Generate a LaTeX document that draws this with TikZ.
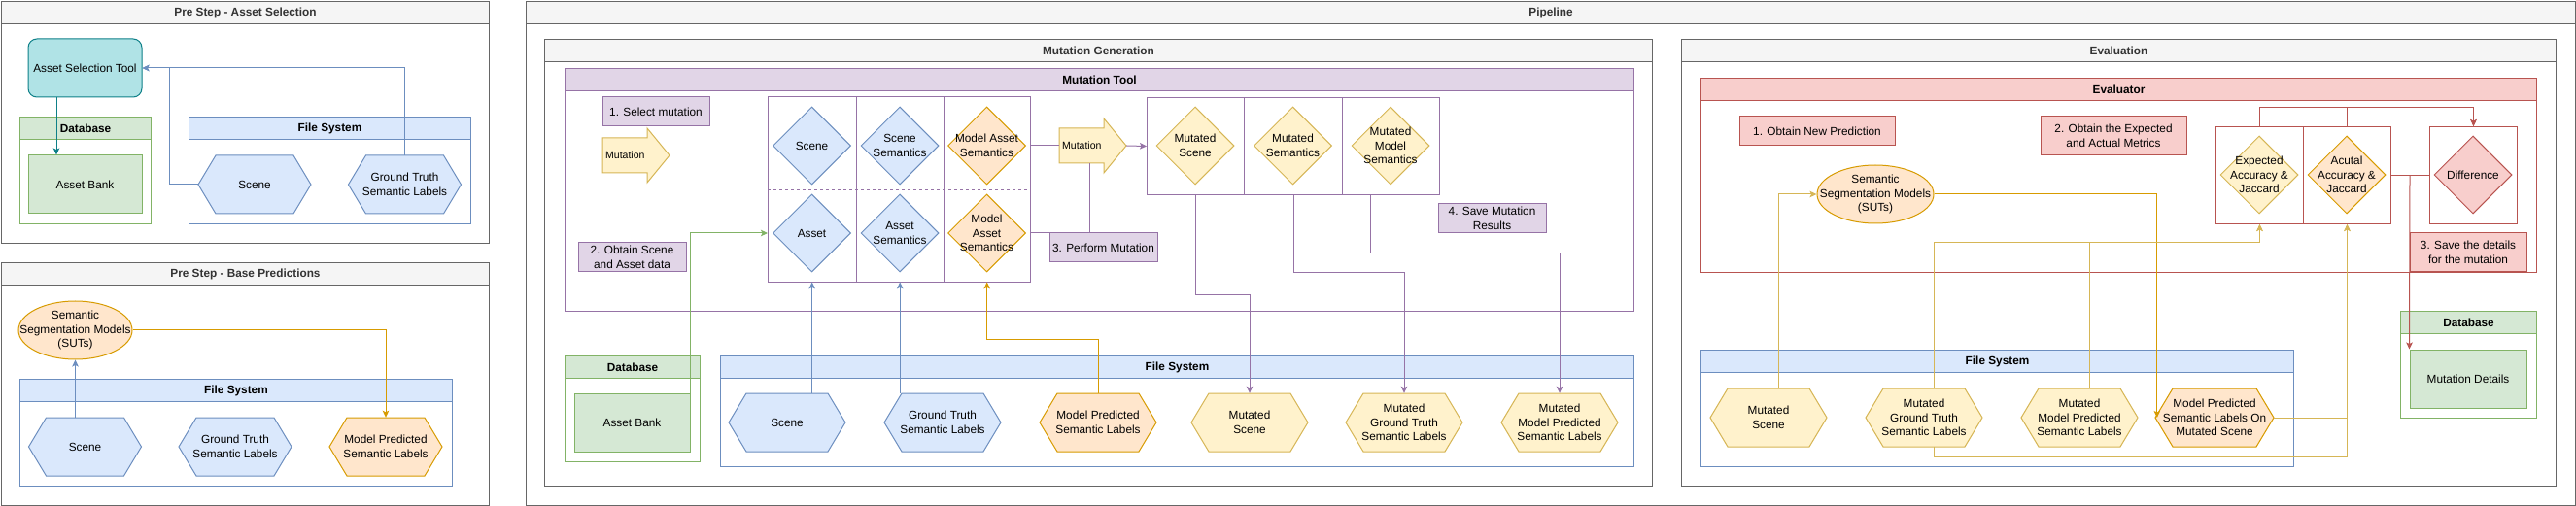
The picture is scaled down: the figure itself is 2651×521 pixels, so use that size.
\documentclass[tikz,border=0pt]{standalone}
\usepackage{fontspec}
\setmainfont{Liberation Sans}
\usetikzlibrary{shapes.geometric,arrows.meta,calc}

\definecolor{gfill}{HTML}{F5F5F5}\definecolor{gline}{HTML}{666666}\definecolor{gtext}{HTML}{333333}
\definecolor{bfill}{HTML}{DAE8FC}\definecolor{bline}{HTML}{6C8EBF}
\definecolor{grfill}{HTML}{D5E8D4}\definecolor{grline}{HTML}{82B366}
\definecolor{ofill}{HTML}{FFE6CC}\definecolor{oline}{HTML}{D79B00}
\definecolor{yfill}{HTML}{FFF2CC}\definecolor{yline}{HTML}{D6B656}
\definecolor{pfill}{HTML}{E1D5E7}\definecolor{pline}{HTML}{9673A6}
\definecolor{rfill}{HTML}{F8CECC}\definecolor{rline}{HTML}{B85450}
\definecolor{tfill}{HTML}{B0E3E6}\definecolor{tline}{HTML}{0E8088}

\tikzset{
  txt/.style={font=\fontsize{11.8}{14.5}\selectfont, align=center, inner sep=0pt},
  hdr/.style={font=\fontsize{11.8}{14.5}\selectfont\bfseries},
  conn/.style={line width=1pt, -{Stealth[length=7pt,width=6.5pt,inset=1.5pt]}},
  plainline/.style={line width=1pt},
  dia/.style={diamond, minimum width=80pt, minimum height=80pt, inner sep=0pt, line width=1pt},
  stepP/.style={txt, draw=pline, fill=pfill, line width=1pt},
  stepR/.style={txt, draw=rline, fill=rfill, line width=1pt},
  greenbox/.style={txt, draw=grline, fill=grfill, line width=1pt},
  cellbox/.style={minimum height=95pt, inner sep=0pt, anchor=north west},
  arrtxt/.style={font=\fontsize{10.5}{12}\selectfont, inner sep=0pt, anchor=west},
}

% container: name, x1, y1, x2, y2, header fill, stroke, title, title colour
\newcommand{\lane}[9]{%
  \node[draw=#7, fill=white, line width=1pt, minimum width=#4-#2, minimum height=#5-#3, anchor=north west, inner sep=0pt] (#1) at (#2,#3) {};
  \node[draw=#7, fill=#6, line width=1pt, minimum width=#4-#2, minimum height=23, anchor=north west, inner sep=0pt, hdr, text=#9] (#1h) at (#2,#3) {#8};
}
% hexagon: name, x, y, half width, style, text
\newcommand{\hexn}[6]{%
  \draw[#5, line width=1pt] (#2-#4,#3) -- (#2-#4+18,#3-30) -- (#2+#4-18,#3-30) -- (#2+#4,#3) -- (#2+#4-18,#3+30) -- (#2-#4+18,#3+30) -- cycle;
  \node[txt, minimum width=2*#4, minimum height=60] (#1) at (#2,#3) {#6};
}
% diamond: name, x, y, style, text
\newcommand{\dmd}[5]{%
  \node[dia, #4] (#1) at (#2,#3) {};
  \node[txt] (#1t) at (#1) {#5};
}

\begin{document}
\begin{tikzpicture}[x=1pt,y=-1pt]
\useasboundingbox (0,0) rectangle (2651,521);
\fill[white] (0,0) rectangle (2651,521);

% ---------------- containers
\lane{psA}{1}{1}{503}{250}{gfill}{gline}{Pre Step - Asset Selection}{gtext}
\lane{psB}{1}{270}{503}{520}{gfill}{gline}{Pre Step - Base Predictions}{gtext}
\lane{pipe}{541}{1}{2650}{520}{gfill}{gline}{Pipeline}{gtext}
\lane{mgen}{560}{40}{1700}{500}{gfill}{gline}{Mutation Generation}{gtext}
\lane{mtool}{581}{70}{1681}{320}{pfill}{pline}{Mutation Tool}{black}
\lane{dbM}{581}{366}{720}{475}{grfill}{grline}{Database}{black}
\lane{fsM}{741}{366}{1681}{480}{bfill}{bline}{File System}{black}
\lane{evalc}{1730}{40}{2630}{500}{gfill}{gline}{Evaluation}{gtext}
\lane{evtr}{1750}{80}{2610}{280}{rfill}{rline}{Evaluator}{black}
\lane{fsE}{1750}{360}{2360}{480}{bfill}{bline}{File System}{black}
\lane{dbE}{2470}{320}{2610}{430}{grfill}{grline}{Database}{black}
\lane{dbA}{20}{120}{155}{230}{grfill}{grline}{Database}{black}
\lane{fsA}{194}{120}{484}{230}{bfill}{bline}{File System}{black}
\lane{fsB}{20}{390}{465}{500}{bfill}{bline}{File System}{black}

% ---------------- Pre Step - Asset Selection
\node[txt, draw=tline, fill=tfill, line width=1pt, rounded corners=9pt, minimum width=117, minimum height=60] (toolA) at (87.5,70) {Asset Selection Tool};
\node[greenbox, minimum width=117, minimum height=60] (abA) at (87.5,190) {Asset Bank};
\hexn{scA}{262}{190}{58}{draw=bline, fill=bfill}{Scene}
\hexn{gtA}{416.5}{190}{58}{draw=bline, fill=bfill}{Ground Truth\\Semantic Labels}

% ---------------- Pre Step - Base Predictions
\node[ellipse, draw=oline, fill=ofill, line width=1pt, minimum width=117, minimum height=60, inner sep=0pt] (sutsB) at (77.5,340) {};
\node[txt] (sutsBt) at (sutsB) {Semantic\\Segmentation Models\\(SUTs)};
\hexn{scB}{87.5}{460}{58}{draw=bline, fill=bfill}{Scene}
\hexn{gtB}{242}{460}{58}{draw=bline, fill=bfill}{Ground Truth\\Semantic Labels}
\hexn{mpB}{397}{460}{58}{draw=oline, fill=ofill}{Model Predicted\\Semantic Labels}

% ---------------- Mutation Generation
\node[stepP, minimum width=110, minimum height=30] (st1) at (675,115) {1. Select mutation};
\draw[draw=yline, fill=yfill, line width=1pt] (620,142) -- (666,142) -- (666,132) -- (689,160) -- (666,188) -- (666,178) -- (620,178) -- cycle;
\node[arrtxt] (mutA) at (623,160) {Mutation};
\node[stepP, minimum width=111, minimum height=30] (st2) at (650.5,265) {2. Obtain Scene\\and Asset data};

% grid of inputs
\node[cellbox, minimum width=91] (c11) at (790,100) {};
\node[cellbox, minimum width=90] (c12) at (881,100) {};
\node[cellbox, minimum width=89] (c13) at (971,100) {};
\node[cellbox, minimum width=91] (c21) at (790,195) {};
\node[cellbox, minimum width=90] (c22) at (881,195) {};
\node[cellbox, minimum width=89] (c23) at (971,195) {};
\draw[pline, line width=1pt] (c11.north west) rectangle (c23.south east);
\draw[pline, line width=1pt] (c11.north east) -- (c21.south east);
\draw[pline, line width=1pt] (c12.north east) -- (c22.south east);
\draw[pline, line width=1pt, dash pattern=on 3pt off 3pt] (c11.south west) -- (c13.south east);

\dmd{dSc}{835.5}{150}{draw=bline, fill=bfill}{Scene}
\dmd{dScS}{926}{150}{draw=bline, fill=bfill}{Scene\\Semantics}
\dmd{dMS}{1015.5}{150}{draw=oline, fill=ofill}{Model Asset\\Semantics}
\dmd{dAs}{835.5}{240}{draw=bline, fill=bfill}{Asset}
\dmd{dAsS}{926}{240}{draw=bline, fill=bfill}{Asset\\Semantics}
\dmd{dMA}{1015.5}{240}{draw=oline, fill=ofill}{Model\\Asset\\Semantics}

% mutation arrow 2
\node[minimum width=69, minimum height=56, inner sep=0pt] (mut2) at (1124.5,150) {};
\draw[draw=yline, fill=yfill, line width=1pt] (1090,132) -- (1136,132) -- (1136,122) -- (1159,150) -- (1136,178) -- (1136,168) -- (1090,168) -- cycle;
\node[arrtxt] (mut2t) at (1093,150) {Mutation};
\coordinate (mut2b) at (1121,168);

\node[stepP, minimum width=111, minimum height=30] (st3) at (1135.5,255) {3. Perform Mutation};

% mutated grid
\node[draw=pline, line width=1pt, minimum width=100, minimum height=100, inner sep=0pt, anchor=north west] (m1) at (1180,100) {};
\node[draw=pline, line width=1pt, minimum width=101, minimum height=100, inner sep=0pt, anchor=north west] (m2) at (1280,100) {};
\node[draw=pline, line width=1pt, minimum width=100, minimum height=100, inner sep=0pt, anchor=north west] (m3) at (1381,100) {};
\dmd{dMSc}{1230}{150}{draw=yline, fill=yfill}{Mutated\\Scene}
\dmd{dMSe}{1330.5}{150}{draw=yline, fill=yfill}{Mutated\\Semantics}
\dmd{dMMS}{1431}{150}{draw=yline, fill=yfill}{Mutated\\Model\\Semantics}

\node[stepP, minimum width=111, minimum height=30] (st4) at (1535.5,225) {4. Save Mutation\\Results};

\node[greenbox, minimum width=119, minimum height=60] (abM) at (650.5,435) {Asset Bank};
\hexn{scM}{810}{435}{60}{draw=bline, fill=bfill}{Scene}
\hexn{gtM}{970}{435}{60}{draw=bline, fill=bfill}{Ground Truth\\Semantic Labels}
\hexn{mpM}{1130}{435}{60}{draw=oline, fill=ofill}{Model Predicted\\Semantic Labels}
\hexn{mscM}{1286}{435}{60}{draw=yline, fill=yfill}{Mutated\\Scene}
\hexn{mgtM}{1445}{435}{60}{draw=yline, fill=yfill}{Mutated\\Ground Truth\\Semantic Labels}
\hexn{mmpM}{1605}{435}{60}{draw=yline, fill=yfill}{Mutated\\Model Predicted\\Semantic Labels}

% ---------------- Evaluation
\node[stepR, minimum width=160, minimum height=30] (er1) at (1870,135) {1. Obtain New Prediction};
\node[stepR, minimum width=150, minimum height=40] (er2) at (2175,140) {2. Obtain the Expected\\and Actual Metrics};
\node[stepR, minimum width=120, minimum height=40] (er3) at (2540,260) {3. Save the details\\for the mutation};

\node[ellipse, draw=oline, fill=ofill, line width=1pt, minimum width=120, minimum height=60, inner sep=0pt] (sutsE) at (1930,200) {};
\node[txt] (sutsEt) at (sutsE) {Semantic\\Segmentation Models\\(SUTs)};

\node[draw=rline, line width=1pt, minimum width=90, minimum height=100, inner sep=0pt, anchor=north west] (e1) at (2280,130) {};
\node[draw=rline, line width=1pt, minimum width=90, minimum height=100, inner sep=0pt, anchor=north west] (e2) at (2370,130) {};
\node[draw=rline, line width=1pt, minimum width=90, minimum height=100, inner sep=0pt, anchor=north west] (ed) at (2500,130) {};
\dmd{dExp}{2325}{180}{draw=yline, fill=yfill}{Expected\\Accuracy \&\\Jaccard}
\dmd{dAct}{2415}{180}{draw=oline, fill=ofill}{Acutal\\Accuracy \&\\Jaccard}
\dmd{dDif}{2545}{180}{draw=rline, fill=rfill}{Difference}

\node[greenbox, minimum width=120, minimum height=60] (mdE) at (2540,390) {Mutation Details};

\hexn{msE}{1820}{430}{60}{draw=yline, fill=yfill}{Mutated\\Scene}
\hexn{mgtE}{1980}{430}{60}{draw=yline, fill=yfill}{Mutated\\Ground Truth\\Semantic Labels}
\hexn{mmpE}{2140}{430}{60}{draw=yline, fill=yfill}{Mutated\\Model Predicted\\Semantic Labels}
\hexn{mpomE}{2279}{430}{61}{draw=oline, fill=ofill}{Model Predicted\\Semantic Labels On\\Mutated Scene}

% ---------------- connectors: Pre Step - Asset Selection
\draw[conn, tline] ([xshift=-29.5pt]toolA.south) -- ([xshift=-29.5pt]abA.north);
\draw[conn, bline] (scA.west) -- ++(-29,0) |- (toolA.east);
\draw[conn, bline] (gtA.north) |- (toolA.east);

% ---------------- connectors: Pre Step - Base Predictions
\draw[conn, bline] (sutsB.south |- scB.north) -- (sutsB.south);
\draw[conn, oline] (sutsB.east) -| (mpB.north);

% ---------------- connectors: Mutation Generation
\draw[conn, grline] ([xshift=-0.5pt]abM.north east) |- (dAs -| c21.west);
\draw[conn, bline] (c21.south |- scM.north) -- (c21.south);
\draw[conn, bline] (c22.south |- gtM.north) -- (c22.south);
\draw[conn, oline] (mpM.north) -- ++(0,-55) -| (c23.south);
\draw[plainline, pline] (dMS -| c13.east) -- (mut2.west);
\draw[plainline, pline] (dMA -| c23.east) -| (mut2b);
\draw[conn, pline] (mut2.east) -- (m1.west);
\draw[conn, pline] (m1.south) -- ++(0,103) -| (mscM.north);
\draw[conn, pline] (m2.south) -- ++(0,80) -| (mgtM.north);
\draw[conn, pline] ([xshift=-21pt]m3.south) -- ++(0,60) -| (mmpM.north);

% ---------------- connectors: Evaluation
\draw[conn, yline] ([xshift=10pt]msE.north) |- (sutsE.west);
\draw[conn, oline] (sutsE.east) -| ([xshift=2pt]mpomE.west);
\draw[conn, yline] ([xshift=10pt]mgtE.north) -- ++(0,-150) -| (e1.south);
\draw[conn, yline] ([xshift=10pt]mmpE.north) -- ++(0,-150) -| (e1.south);
\draw[conn, yline] ([xshift=10pt]mgtE.south) -- ++(0,10) -| (e2.south);
\draw[conn, yline] (mpomE.east) -| (e2.south);
\draw[conn, rline] (e1.north) -- ++(0,-19.5) -| (ed.north);
\draw[conn, rline] (e2.north) -- ++(0,-19.5) -| (ed.north);
\draw[plainline, rline] (e2.east) -- (ed.west);
\draw[conn, rline] ([xshift=-20pt]ed.west) -- (mdE.north west);
\end{tikzpicture}
\end{document}
